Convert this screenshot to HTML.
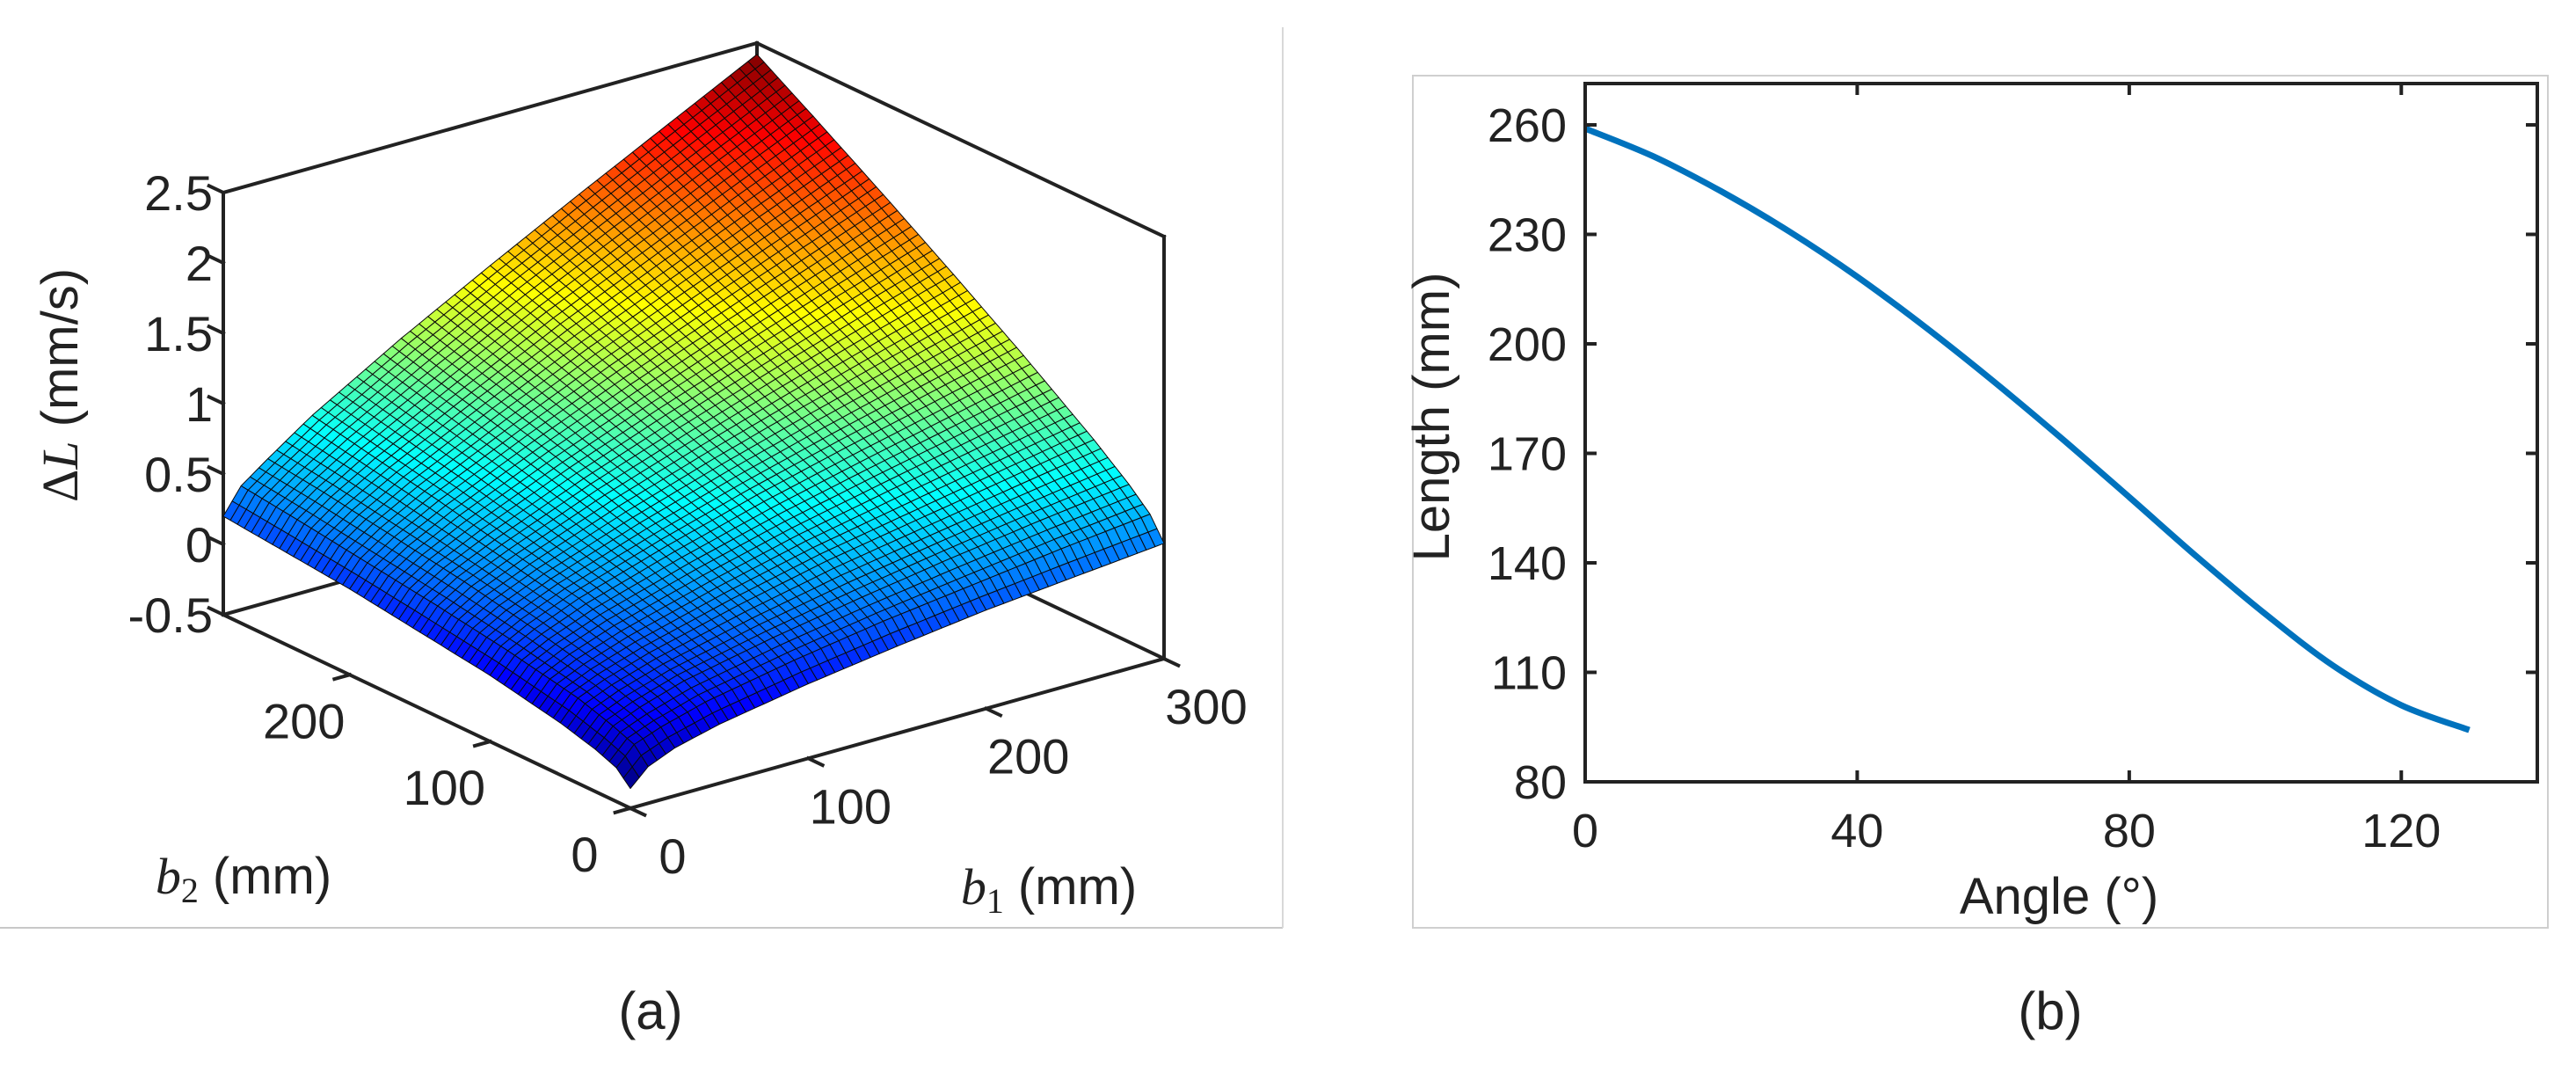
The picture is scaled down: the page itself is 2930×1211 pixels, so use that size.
<!DOCTYPE html>
<html><head><meta charset="utf-8"><style>
html,body{margin:0;padding:0;background:#fff;}
svg{display:block;}
text{font-family:"Liberation Sans",Arial,sans-serif;fill:#222;}
.ser{font-family:"Liberation Serif","Times New Roman",serif;font-style:italic;}
</style></head><body>
<svg id="fig" width="2930" height="1211" viewBox="0 0 2930 1211" xmlns="http://www.w3.org/2000/svg">
  <g id="panelA"></g>
  <g id="panelB"></g>
</svg>
<script>
// ---------- Panel (a) data ----------
const b1Grid = [0, 10, 25, 50, 100, 150, 200, 250, 300];
const b2Grid = [0, 10, 25, 50, 100, 150, 200, 250, 290];
// rows: b2, cols: b1  (ΔL in mm/s)
const dLRow0 = [-0.36,-0.24,-0.16,-0.08,0.03,0.12,0.20,0.26,0.32];
const dLRow1 = [-0.26,-0.13,-0.06,0.03,0.15,0.25,0.33,0.41,0.48];
const dLRow2 = [-0.20,-0.07,0.01,0.11,0.24,0.35,0.45,0.54,0.62];
const dLRow3 = [-0.13,0.01,0.09,0.19,0.35,0.49,0.60,0.71,0.82];
const dLRow4 = [-0.03,0.11,0.21,0.34,0.54,0.72,0.88,1.03,1.18];
const dLRow5 = [0.04,0.19,0.31,0.45,0.70,0.92,1.13,1.33,1.52];
const dLRow6 = [0.11,0.26,0.39,0.56,0.85,1.12,1.37,1.61,1.85];
const dLRow7 = [0.16,0.33,0.47,0.66,0.99,1.31,1.60,1.89,2.17];
const dLRow8 = [0.20,0.38,0.52,0.74,1.11,1.45,1.78,2.10,2.42];
const dLRows = [dLRow0,dLRow1,dLRow2,dLRow3,dLRow4,dLRow5,dLRow6,dLRow7,dLRow8];
const zTicks = [-0.5,0,0.5,1,1.5,2,2.5];
const zTickLabels = ["-0.5","0","0.5","1","1.5","2","2.5"];
const b1Ticks = [0,100,200,300];
const b2Ticks = [0,100,200];

// ---------- Panel (b) data ----------
const angles = [0,10,20,30,40,50,60,70,80,90,100,110,120,130];
const lengths = [259,251.4,241.8,230.8,218.4,204.6,189.8,174.2,158,141.6,126,111.8,101,94.2];
const xTicksB = [0,40,80,120];
const yTicksB = [80,110,140,170,200,230,260];

const NS = "http://www.w3.org/2000/svg";
function mk(tag, attrs, parent){
  const e = document.createElementNS(NS, tag);
  for (const k in attrs) e.setAttribute(k, attrs[k]);
  parent.appendChild(e);
  return e;
}

// ---------- Panel (a) ----------
(function(){
  const g = document.getElementById('panelA');
  const F = [717,919], R = [1324,749], L = [254,699];
  const B1MAX = 300, B2MAX = 290, ZMIN = -0.5, ZPX = 160;
  function P(b1,b2,z){
    const u=b1/B1MAX, v=b2/B2MAX;
    return [F[0]+u*(R[0]-F[0])+v*(L[0]-F[0]), F[1]+u*(R[1]-F[1])+v*(L[1]-F[1])-(z-ZMIN)*ZPX];
  }
  function seg(a,b,name){
    const l = mk('line',{x1:a[0],y1:a[1],x2:b[0],y2:b[1],stroke:'#222','stroke-width':4,'stroke-linecap':'square'},g);
    
    
  }
  const fr1 = mk('line',{x1:0,y1:1055,x2:1459,y2:1055,stroke:'#c8c8c8','stroke-width':2},g);
  
  
  const fr2 = mk('line',{x1:1459,y1:31,x2:1459,y2:1055,stroke:'#d8d8d8','stroke-width':2},g);
  
  

  seg(P(0,B2MAX,-0.5),P(B1MAX,B2MAX,-0.5),'box-floor-back-left');
  seg(P(B1MAX,0,-0.5),P(B1MAX,B2MAX,-0.5),'box-floor-back-right');
  seg(P(B1MAX,B2MAX,-0.5),P(B1MAX,B2MAX,2.5),'box-back-vertical');
  seg(P(0,B2MAX,2.5),P(B1MAX,B2MAX,2.5),'box-top-left');
  seg(P(B1MAX,0,2.5),P(B1MAX,B2MAX,2.5),'box-top-right');
  seg(P(0,B2MAX,-0.5),P(0,B2MAX,2.5),'z-axis-line');
  seg(P(B1MAX,0,-0.5),P(B1MAX,0,2.5),'box-right-vertical');

  function idx(grid,v){ let i=0; while(i<grid.length-2 && v>grid[i+1]) i++; return i; }
  function zAt(b1,b2){
    const i=idx(b1Grid,b1), j=idx(b2Grid,b2);
    const tx=(b1-b1Grid[i])/(b1Grid[i+1]-b1Grid[i]);
    const ty=(b2-b2Grid[j])/(b2Grid[j+1]-b2Grid[j]);
    const a=dLRows[j][i], b=dLRows[j][i+1], c=dLRows[j+1][i], d=dLRows[j+1][i+1];
    return (a*(1-tx)+b*tx)*(1-ty)+(c*(1-tx)+d*tx)*ty;
  }
  let zmin=Infinity,zmax=-Infinity;
  dLRows.forEach(r=>r.forEach(v=>{zmin=Math.min(zmin,v);zmax=Math.max(zmax,v);}));
  function jet(t){
    t=Math.max(0,Math.min(1,t));
    const r=Math.max(0,Math.min(1,1.5-Math.abs(4*t-3)));
    const gg=Math.max(0,Math.min(1,1.5-Math.abs(4*t-2)));
    const b=Math.max(0,Math.min(1,1.5-Math.abs(4*t-1)));
    return 'rgb('+Math.round(r*255)+','+Math.round(gg*255)+','+Math.round(b*255)+')';
  }
  const N1=60, N2=58;
  const surf = mk('g',{},g);
  
  
  const quads=[];
  for(let j=0;j<N2;j++) for(let i=0;i<N1;i++) quads.push([i,j]);
  quads.sort((p,q)=>(q[0]/N1+q[1]/N2)-(p[0]/N1+p[1]/N2));
  quads.forEach(([i,j])=>{
    const b1a=i*B1MAX/N1, b1b=(i+1)*B1MAX/N1, b2a=j*B2MAX/N2, b2b=(j+1)*B2MAX/N2;
    const z00=zAt(b1a,b2a), z10=zAt(b1b,b2a), z11=zAt(b1b,b2b), z01=zAt(b1a,b2b);
    const pts=[P(b1a,b2a,z00),P(b1b,b2a,z10),P(b1b,b2b,z11),P(b1a,b2b,z01)];
    const zc=(z00+z10+z11+z01)/4;
    const poly = mk('polygon',{points:pts.map(p=>p[0].toFixed(1)+','+p[1].toFixed(1)).join(' '),fill:jet((zc-zmin)/(zmax-zmin)),stroke:'#0a0a0a','stroke-width':1.0,'stroke-linejoin':'round'},surf);
    
    
  });

  seg(P(0,0,-0.5),P(B1MAX,0,-0.5),'b1-axis-line');
  seg(P(0,0,-0.5),P(0,B2MAX,-0.5),'b2-axis-line');
  const tk=18;
  const dirB2=[L[0]-F[0],L[1]-F[1]], nB2=Math.hypot(dirB2[0],dirB2[1]);
  const dirB1=[R[0]-F[0],R[1]-F[1]], nB1=Math.hypot(dirB1[0],dirB1[1]);
  b1Ticks.forEach(v=>{
    const p=P(v,0,-0.5);
    seg(p,[p[0]-dirB2[0]/nB2*tk,p[1]-dirB2[1]/nB2*tk],'b1-tick');
    const t=mk('text',{x:p[0]+48,y:p[1]+74,'font-size':56,'text-anchor':'middle'},g);
    t.textContent=String(v);
    
    
  });
  b2Ticks.forEach(v=>{
    const p=P(0,v,-0.5);
    seg(p,[p[0]-dirB1[0]/nB1*tk,p[1]-dirB1[1]/nB1*tk],'b2-tick');
    const t=mk('text',{x:p[0]-52,y:p[1]+72,'font-size':56,'text-anchor':'middle'},g);
    t.textContent=String(v);
    
    
  });
  zTicks.forEach((v,k)=>{
    const p=P(0,B2MAX,v);
    seg(p,[p[0]+dirB2[0]/nB2*tk,p[1]+dirB2[1]/nB2*tk],'z-tick');
    const t=mk('text',{x:242,y:p[1]+20,'font-size':56,'text-anchor':'end'},g);
    t.textContent=zTickLabels[k];
    
    
  });
})();

// ---------- Panel (b) ----------
(function(){
  const g=document.getElementById('panelB');
  const X0=1803, X1=2886, Y0=95, Y1=889;
  const xs=v=>X0+(v-0)*(X1-X0)/140;
  const ys=v=>Y1-(v-80)*4.15;
  const fr=mk('rect',{x:1607,y:86,width:1291,height:969,fill:'none',stroke:'#cfcfcf','stroke-width':2},g);
  
  
  const pts=angles.map((a,i)=>[xs(a),ys(lengths[i])]);
  let d='M'+pts[0][0].toFixed(1)+','+pts[0][1].toFixed(1);
  for(let i=0;i<pts.length-1;i++){
    const p0=pts[Math.max(0,i-1)],p1=pts[i],p2=pts[i+1],p3=pts[Math.min(pts.length-1,i+2)];
    const c1=[p1[0]+(p2[0]-p0[0])/6,p1[1]+(p2[1]-p0[1])/6];
    const c2=[p2[0]-(p3[0]-p1[0])/6,p2[1]-(p3[1]-p1[1])/6];
    d+=' C'+c1[0].toFixed(1)+','+c1[1].toFixed(1)+' '+c2[0].toFixed(1)+','+c2[1].toFixed(1)+' '+p2[0].toFixed(1)+','+p2[1].toFixed(1);
  }
  const line=mk('path',{d:d,fill:'none',stroke:'#0072BD','stroke-width':7},g);
  
  
  const box=mk('rect',{x:X0,y:Y0,width:X1-X0,height:Y1-Y0,fill:'none',stroke:'#222','stroke-width':4},g);
  
  
  xTicksB.forEach(v=>{
    const x=xs(v);
    const t1=mk('line',{x1:x,y1:Y1,x2:x,y2:Y1-13,stroke:'#222','stroke-width':4},g);
    
    
    const t2=mk('line',{x1:x,y1:Y0,x2:x,y2:Y0+13,stroke:'#222','stroke-width':4},g);
    
    
    const t=mk('text',{x:x,y:963,'font-size':54,'text-anchor':'middle'},g);
    t.textContent=String(v);
    
    
  });
  yTicksB.forEach(v=>{
    const y=ys(v);
    const t1=mk('line',{x1:X0,y1:y,x2:X0+13,y2:y,stroke:'#222','stroke-width':4},g);
    
    
    const t2=mk('line',{x1:X1,y1:y,x2:X1-13,y2:y,stroke:'#222','stroke-width':4},g);
    
    
    const t=mk('text',{x:1782,y:y+19,'font-size':54,'text-anchor':'end'},g);
    t.textContent=String(v);
    
    
  });
})();
</script>
<script>
(function(){
  const svg=document.getElementById('fig');
  svg.insertAdjacentHTML('beforeend',
   '<text x="106" y="456" font-size="58" text-anchor="middle" transform="rotate(-90 88 456)"><tspan font-family="Liberation Serif,serif">Δ</tspan><tspan class="ser">L</tspan>  (mm/s)</text>'+
   '<text x="277" y="1016" font-size="58" text-anchor="middle"><tspan class="ser">b</tspan><tspan font-family="Liberation Serif,serif" font-size="40" dy="10">2</tspan><tspan dy="-10"> (mm)</tspan></text>'+
   '<text x="1193" y="1028" font-size="58" text-anchor="middle"><tspan class="ser">b</tspan><tspan font-family="Liberation Serif,serif" font-size="40" dy="10">1</tspan><tspan dy="-10"> (mm)</tspan></text>'+
   '<text x="740" y="1170" font-size="60" text-anchor="middle">(a)</text>'+
   '<text x="2332" y="1170" font-size="60" text-anchor="middle">(b)</text>'+
   '<text x="2342" y="1039" font-size="58" text-anchor="middle">Angle (°)</text>'+
   '<text x="1668" y="494" font-size="58" text-anchor="middle" transform="rotate(-90 1648 494)">Length (mm)</text>');
})();
</script>
</body></html>
